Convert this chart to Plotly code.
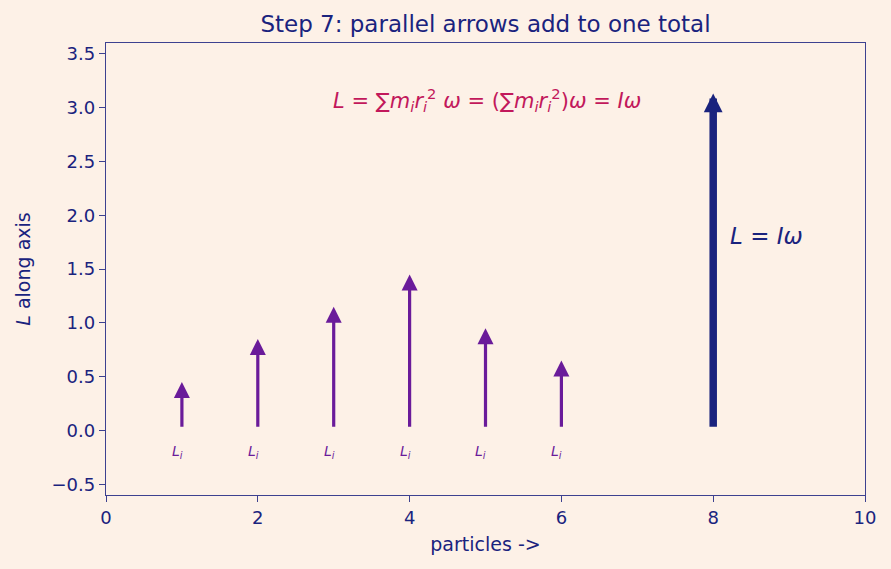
import plotly.graph_objects as go

# Data
particles = [1, 2, 3, 4, 5, 6]
L_values = [0.45, 0.85, 1.15, 1.45, 0.95, 0.65]
L_start = 0.02
total_x = 8
total_L = 3.13
x_ticks = [0, 2, 4, 6, 8, 10]
y_ticks = [-0.5, 0.0, 0.5, 1.0, 1.5, 2.0, 2.5, 3.0, 3.5]

BG = "#fdf1e7"
NAVY = "#1a237e"
PURPLE = "#6a1b9a"
CRIMSON = "#c2185b"
FONT = "'DejaVu Sans', Verdana, sans-serif"

fig = go.Figure()
# invisible trace to establish axes
fig.add_trace(go.Scatter(x=particles + [total_x], y=L_values + [total_L],
                         mode="markers", marker=dict(opacity=0), hoverinfo="skip",
                         showlegend=False))

annotations = []
for x, L in zip(particles, L_values):
    annotations.append(dict(x=x, y=L, ax=x, ay=L_start, xref="x", yref="y",
                            axref="x", ayref="y", showarrow=True, arrowhead=2,
                            arrowsize=1.0, arrowwidth=3.2, arrowcolor=PURPLE,
                            text="", standoff=0, startstandoff=0))
    annotations.append(dict(x=x - 0.06, y=-0.2, xref="x", yref="y", showarrow=False,
                            text="<i>L<sub>i</sub></i>",
                            font=dict(family=FONT, size=14, color=PURPLE)))

annotations.append(dict(x=total_x, y=total_L, ax=total_x, ay=L_start, xref="x", yref="y",
                        axref="x", ayref="y", showarrow=True, arrowhead=2,
                        arrowsize=0.5, arrowwidth=7.5, arrowcolor=NAVY, text="",
                        standoff=0, startstandoff=0))
annotations.append(dict(x=8.2, y=1.81, xref="x", yref="y", showarrow=False,
                        xanchor="left", text="<i>L</i> = <i>Iω</i>",
                        font=dict(family=FONT, size=23, color=NAVY)))
annotations.append(dict(x=5.02, y=3.07, xref="x", yref="y", showarrow=False,
                        text="<i>L</i> = ∑<i>m<sub>i</sub>r<sub>i</sub></i><sup>2</sup> <i>ω</i> = (∑<i>m<sub>i</sub>r<sub>i</sub></i><sup>2</sup>)<i>ω</i> = <i>Iω</i>",
                        font=dict(family=FONT, size=21, color=CRIMSON)))

axis_common = dict(showgrid=False, zeroline=False, showline=True, linecolor="#3d4190",
                   linewidth=1.3, mirror=True, ticks="outside", ticklen=6, tickwidth=1.2,
                   tickcolor="#3d4190", tickfont=dict(family=FONT, size=18, color=NAVY))

fig.update_layout(
    width=891, height=569,
    paper_bgcolor=BG, plot_bgcolor=BG,
    margin=dict(l=106, r=26, t=43, b=74),
    title=dict(text="Step 7: parallel arrows add to one total", x=0.5, xref="paper",
               xanchor="center", y=1 - 24 / 569, yanchor="middle",
               font=dict(family=FONT, size=23, color=NAVY)),
    xaxis=dict(range=[0, 10], tickvals=x_ticks, ticktext=[str(v) for v in x_ticks],
               title=dict(text="particles ->", font=dict(family=FONT, size=19, color=NAVY),
                          standoff=10),
               **axis_common),
    yaxis=dict(range=[-0.6, 3.6], tickvals=y_ticks,
               ticktext=[("−" if v < 0 else "") + f"{abs(v):.1f}" for v in y_ticks],
               title=dict(text="<i>L</i> along axis", font=dict(family=FONT, size=19, color=NAVY),
                          standoff=15),
               **axis_common),
    annotations=annotations,
    showlegend=False,
)

fig.write_html("out.html")
